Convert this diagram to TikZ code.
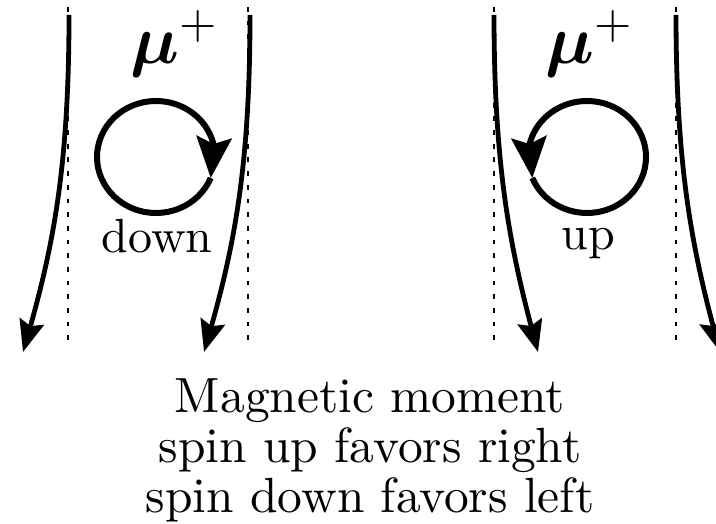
\documentclass[tikz,border=0pt]{standalone}
\usepackage{amsmath,amssymb}
\usetikzlibrary{arrows.meta, bending}

\tikzset{
  guide/.style={line width=0.55pt, dash pattern=on 1pt off 1.85pt},
  track/.style={line width=1pt, -{Stealth[length=6.6pt, width=5.2pt, inset=1pt]}},
  spinloop/.style={line width=1.25pt, -{Stealth[length=8.5pt, width=7.3pt, inset=1.4pt]}},
  spinlabel/.style={anchor=base, inner sep=0pt, font=\fontsize{10}{12}\selectfont},
}

\begin{document}
\begin{tikzpicture}[x=0.2083pt, y=0.2083pt, >=Stealth]
    \useasboundingbox (0,0) rectangle (716,-523);

    % dotted guide lines
    \foreach \gx/\gname in {68/ga, 248/gb, 494/gc, 676/gd} {
        \coordinate (\gname top) at (\gx,-7);
        \coordinate (\gname bot) at (\gx,-348);
        \draw[guide] (\gname top) -- (\gname bot);
    }

    % deflected tracks
    \coordinate (ta) at (69,-15);  \coordinate (tae) at (23,-352);
    \coordinate (tb) at (250,-15); \coordinate (tbe) at (204,-352);
    \coordinate (tc) at (494,-15); \coordinate (tce) at (538,-352);
    \coordinate (td) at (676,-15); \coordinate (tde) at (720,-352);
    \draw[track] (ta) .. controls (69,-180) and (50,-260) .. (tae);
    \draw[track] (tb) .. controls (250,-180) and (231,-260) .. (tbe);
    \draw[track] (tc) .. controls (494,-180) and (513,-260) .. (tce);
    \draw[track] (td) .. controls (676,-180) and (695,-260) .. (tde);

    % spin loops
    \coordinate (cdown) at (156,-157);
    \coordinate (cup) at (587,-157);
    \draw[spinloop] (cdown) ++(-22:59 and 56) arc[start angle=-22, end angle=-382, x radius=59, y radius=56];
    \draw[spinloop] (cup) ++(202:59 and 56) arc[start angle=202, end angle=562, x radius=59, y radius=56];

    % labels
    \node (mudown) at (175,-44) {\Large$\boldsymbol{\mu}^{+}$};
    \node (muup) at (590,-44) {\Large$\boldsymbol{\mu}^{+}$};
    \node[spinlabel] (down) at (157,-253) {down};
    \node[spinlabel] (up) at (588,-250) {up};

    \node[align=center, inner sep=0pt, font=\fontsize{10.3}{10.4}\selectfont, anchor=base] (caption) at (370,-512)
        {Magnetic moment\\spin up favors right\\spin down favors left};
\end{tikzpicture}
\end{document}
